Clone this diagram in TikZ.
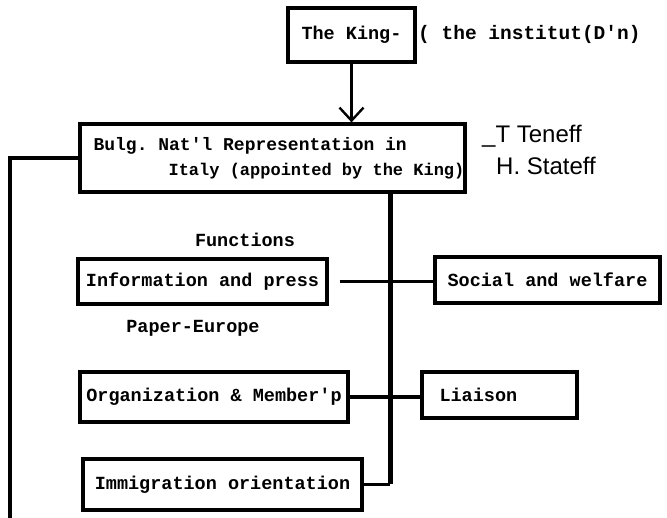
\documentclass[tikz,border=0pt]{standalone}
\usepackage{fontspec}
\setmonofont{Liberation Mono}
\newfontfamily\handfont{Liberation Sans}
\usetikzlibrary{arrows.meta}
\begin{document}
\begin{tikzpicture}[x=1pt,y=-1pt,
  box/.style={draw,line width=3.2pt,inner sep=0pt,font=\fontsize{18.5}{25}\selectfont\ttfamily\bfseries},
  lbl/.style={inner sep=0pt,font=\fontsize{18.5}{25}\selectfont\ttfamily\bfseries},
  hand/.style={inner sep=0pt,anchor=west,font=\fontsize{24}{26}\selectfont\handfont},
  conn/.style={line width=3.2pt},
  trunkline/.style={line width=5pt},
  pen/.style={line width=2.4pt}]
\useasboundingbox (0,0) rectangle (667,518);
\fill[white] (0,0) rectangle (667,518);
% boxes
\node[box,minimum width=127pt,minimum height=54pt] (king) at (351.5,35) {The King-};
\node[box,minimum width=385pt,minimum height=68pt,align=left,font=\fontsize{17}{25}\selectfont\ttfamily\bfseries] (bulg) at (272.5,158)
  {\hspace*{13pt}{\fontsize{18}{25}\selectfont Bulg. Nat'l Representation in}\\\hspace*{88pt}Italy (appointed by the King)};
\node[box,minimum width=249pt,minimum height=45pt] (info) at (202.5,281.5) {Information and press};
\node[box,minimum width=225pt,minimum height=46pt] (social) at (547.5,280) {Social and welfare};
\node[box,minimum width=268pt,minimum height=50pt] (org) at (214,397) {Organization \& Member'p};
\node[box,minimum width=155pt,minimum height=46pt,text width=120pt,align=left] (liaison) at (499.5,395) {Liaison};
\node[box,minimum width=279pt,minimum height=51pt] (imm) at (222.5,484.5) {Immigration orientation};
% texts
\node[lbl,anchor=west,font=\fontsize{19.5}{25}\selectfont\ttfamily\bfseries] (inst) at (418,34) {( the institut(D'n)};
\node[lbl] (func) at (245,240) {Functions};
\node[lbl] (paper) at (193,328) {Paper-Europe};
\node[hand] (ten) at (482,136) {\_T Teneff};
\node[hand] (sta) at (496,166) {H. Stateff};
% connectors
\coordinate (tr) at (390,0);
\coordinate (leftend) at (10,518);
\draw[pen,-{Straight Barb[length=13pt,width=24pt,line width=2.4pt]}] (king.south) -- (king.south |- bulg.north);
\draw[conn] (bulg.west) -| (leftend);
\draw[trunkline] (bulg.south -| tr) -- (imm.east -| tr);
\draw[conn] (imm.east) -- (imm.east -| tr);
\draw[conn,shorten <=11pt] (info.east) -- (info.east -| social.west);
\draw[conn] (org.east) -- (org.east -| liaison.west);
\end{tikzpicture}
\end{document}
